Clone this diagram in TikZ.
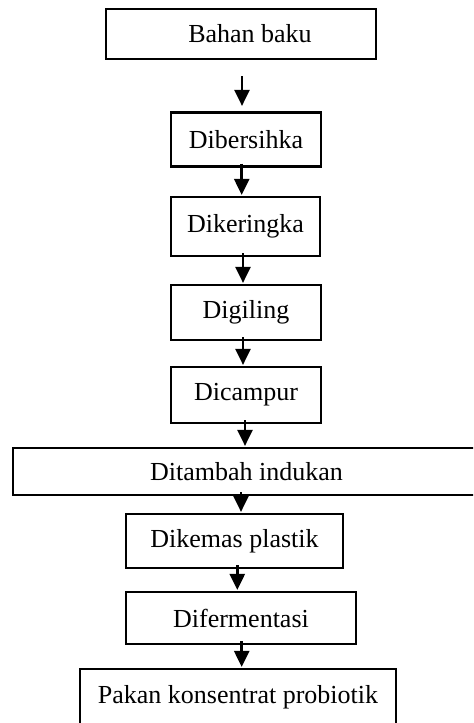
\documentclass[tikz,border=0pt]{standalone}
\usepackage{fontspec}
\setmainfont{Liberation Serif}
\usetikzlibrary{arrows.meta}

\tikzset{
  kotak/.style={draw,line width=1.1pt,inner sep=0pt,font=\fontsize{13}{15}\selectfont},
  alur/.style={line width=1.25pt,-{Triangle[length=8pt,width=7.5pt]},
    shorten <=-2pt,shorten >=0.5pt},
}

\begin{document}
\begin{tikzpicture}[x=1pt,y=1pt]
  \useasboundingbox (0,0) rectangle (236.5,-361.5);
  \clip (0,0) rectangle (236.5,-361.5);
  % tahapan
  \node[kotak,minimum width=135pt,minimum height=25pt] (baku) at (120.5,-17)
    {\hspace*{9pt}Bahan baku};
  \node[kotak,minimum width=75pt,minimum height=27pt] (bersih) at (123,-69.75) {Dibersihka};
  \node[kotak,minimum width=74.5pt,minimum height=29.5pt] (kering) at (122.75,-113.25) {Dikeringka};
  \node[kotak,minimum width=75pt,minimum height=27.5pt] (giling) at (123,-156.25) {Digiling};
  \node[kotak,minimum width=75pt,minimum height=28pt] (campur) at (123,-197.5) {Dicampur};
  \node[kotak,minimum width=233.5pt,minimum height=23.5pt] (tambah) at (123.25,-235.75) {Ditambah indukan};
  \node[kotak,minimum width=108.5pt,minimum height=27pt] (kemas) at (117.25,-270.5) {Dikemas plastik};
  \node[kotak,minimum width=115pt,minimum height=26pt] (fermen) at (120.5,-309) {Difermentasi};
  \node[kotak,minimum width=158pt,minimum height=28pt] (pakan) at (119,-348.5) {Pakan konsentrat probiotik};
  % panah
  \draw[alur,shorten <=8pt,shorten >=2.75pt] ([xshift=0.5pt]baku.south) -- ([xshift=-2pt]bersih.north);
  \foreach \a/\b/\da/\db in {bersih/kering/-2.15/-1.9,
                              kering/giling/-1.25/-1.5,
                              giling/campur/-1.5/-1.5,
                              campur/tambah/-0.5/-0.75,
                              tambah/kemas/-2.75/3.25,
                              kemas/fermen/1.4/-1.85,
                              fermen/pakan/0.35/1.85}
    \draw[alur] ([xshift=\da pt]\a.south) -- ([xshift=\db pt]\b.north);
\end{tikzpicture}
\end{document}
